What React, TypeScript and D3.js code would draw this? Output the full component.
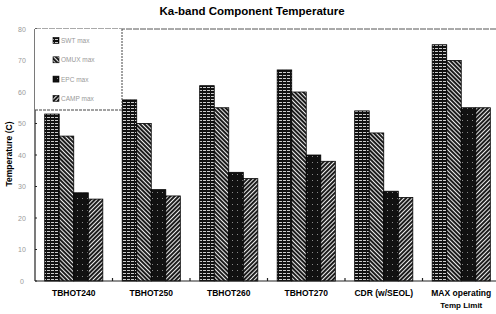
import React, { useEffect, useRef } from 'react';
import * as d3 from 'd3';

const categories = ['TBHOT240', 'TBHOT250', 'TBHOT260', 'TBHOT270', 'CDR (w/SEOL)', 'MAX operating|Temp Limit'];
const seriesNames = ['SWT max', 'OMUX max', 'EPC max', 'CAMP max'];
const swtMax = [53, 57.5, 62, 67, 54, 75];
const omuxMax = [46, 50, 55, 60, 47, 70];
const epcMax = [28, 29, 34.5, 40, 28.5, 55];
const campMax = [26, 27, 32.5, 38, 26.5, 55];
const yTicks = [0, 10, 20, 30, 40, 50, 60, 70, 80];

const W = 496;
const H = 314;
const margin = { top: 29, right: -4, bottom: 33, left: 35 };

const App = () => {
  const ref = useRef<SVGSVGElement>(null);

  useEffect(() => {
    const el = ref.current;
    if (!el) return;
    const svg = d3.select(el);
    svg.selectAll('*').remove();

    const width = W - margin.left - margin.right;
    const height = H - margin.top - margin.bottom;
    const series = [swtMax, omuxMax, epcMax, campMax];

    // patterns
    const defs = svg.append('defs');
    const p1 = defs.append('pattern').attr('id', 'p1').attr('patternUnits', 'userSpaceOnUse')
      .attr('width', 4).attr('height', 3);
    p1.append('rect').attr('width', 4).attr('height', 3).attr('fill', '#111');
    p1.append('rect').attr('x', 0).attr('y', 1).attr('width', 3).attr('height', 1).attr('fill', '#ccc');

    const hatch = (id: string, angle: number) => {
      const p = defs.append('pattern').attr('id', id).attr('patternUnits', 'userSpaceOnUse')
        .attr('width', 3).attr('height', 3).attr('patternTransform', `rotate(${angle})`);
      p.append('rect').attr('width', 3).attr('height', 3).attr('fill', '#eee');
      p.append('line').attr('x1', 1).attr('y1', 0).attr('x2', 1).attr('y2', 3)
        .attr('stroke', '#111').attr('stroke-width', 1.9);
    };
    hatch('p2', -45);
    hatch('p4', 45);

    const p3 = defs.append('pattern').attr('id', 'p3').attr('patternUnits', 'userSpaceOnUse')
      .attr('width', 5).attr('height', 6);
    p3.append('rect').attr('width', 5).attr('height', 6).attr('fill', '#111');
    p3.append('rect').attr('x', 2).attr('y', 1).attr('width', 1).attr('height', 1).attr('fill', '#888');
    const fills = ['url(#p1)', 'url(#p2)', 'url(#p3)', 'url(#p4)'];

    // title
    svg.append('text')
      .attr('x', 252).attr('y', 15)
      .attr('text-anchor', 'middle')
      .style('font-family', 'Liberation Sans, Arial, sans-serif')
      .style('font-weight', 'bold').style('font-size', '11.5px')
      .text('Ka-band Component Temperature');

    const g = svg.append('g').attr('transform', `translate(${margin.left}, ${margin.top})`);

    const x0 = d3.scaleBand().domain(categories).range([0, width]).paddingInner(0.25).paddingOuter(0.125);
    const x1 = d3.scaleBand().domain(seriesNames).range([0, x0.bandwidth()]);
    const y = d3.scaleLinear().domain([0, 80]).range([height, 0]);

    // top frame
    g.append('line').attr('x1', 0).attr('x2', width).attr('y1', 0).attr('y2', 0)
      .attr('stroke', '#555').attr('stroke-dasharray', '6,1');

    // bars
    categories.forEach((c, ci) => {
      series.forEach((s, si) => {
        g.append('rect')
          .attr('x', (x0(c) ?? 0) + (x1(seriesNames[si]) ?? 0))
          .attr('y', y(s[ci]))
          .attr('width', x1.bandwidth())
          .attr('height', height - y(s[ci]))
          .attr('fill', fills[si])
          .attr('stroke', '#000').attr('stroke-width', 0.8);
      });
    });

    // y axis
    g.append('line').attr('x1', 0).attr('x2', 0).attr('y1', 0).attr('y2', height)
      .attr('stroke', '#222').attr('stroke-width', 1.2);
    yTicks.forEach(t => {
      g.append('line').attr('x1', 0).attr('x2', 2).attr('y1', y(t)).attr('y2', y(t)).attr('stroke', '#222');
      g.append('text').attr('x', -13).attr('y', y(t) + 2.5)
        .attr('text-anchor', 'middle')
        .style('font-family', 'Liberation Sans, Arial, sans-serif')
        .style('font-size', '7px').attr('fill', '#999')
        .text(t);
    });

    // x axis
    g.append('line').attr('x1', 0).attr('x2', width).attr('y1', height).attr('y2', height)
      .attr('stroke', '#222').attr('stroke-width', 1.2);
    categories.slice(1).forEach(c => {
      const bx = (x0(c) ?? 0) - (x0.step() - x0.bandwidth()) / 2;
      g.append('line').attr('x1', bx).attr('x2', bx).attr('y1', height).attr('y2', height - 3)
        .attr('stroke', '#222').attr('stroke-width', 1.2);
    });
    categories.forEach(c => {
      const lines = c.split('|');
      lines.forEach((ln, li) => {
        g.append('text')
          .attr('x', (x0(c) ?? 0) + x0.bandwidth() / 2)
          .attr('y', height + 15 + li * 12)
          .attr('text-anchor', 'middle')
          .style('font-family', 'Liberation Sans, Arial, sans-serif')
          .style('font-weight', 'bold').style('font-size', li === 0 ? '8.5px' : '8px')
          .text(ln);
      });
    });

    // y title
    svg.append('text')
      .attr('transform', `translate(12, ${margin.top + 125}) rotate(-90)`)
      .attr('text-anchor', 'middle')
      .style('font-family', 'Liberation Sans, Arial, sans-serif')
      .style('font-weight', 'bold').style('font-size', '8.5px')
      .text('Temperature (C)');

    // legend box
    const lg = g.append('g');
    lg.append('rect').attr('x', 0).attr('y', 0).attr('width', 87).attr('height', 81)
      .attr('fill', '#fff');
    lg.append('line').attr('x1', 87).attr('x2', 87).attr('y1', 0).attr('y2', 81)
      .attr('stroke', '#444').attr('stroke-dasharray', '2,1');
    lg.append('line').attr('x1', 0).attr('x2', 87).attr('y1', 81).attr('y2', 81)
      .attr('stroke', '#444').attr('stroke-dasharray', '3,1');
    seriesNames.forEach((n, i) => {
      const ly = 12 + i * 19.3;
      lg.append('rect').attr('x', 18).attr('y', ly - 3.5).attr('width', 6).attr('height', 6)
        .attr('fill', fills[i]).attr('stroke', '#000').attr('stroke-width', 0.6);
      lg.append('text').attr('x', 26).attr('y', ly + 2)
        .style('font-family', 'Liberation Sans, Arial, sans-serif')
        .style('font-size', '6.5px').attr('fill', '#999')
        .text(n);
    });
  }, []);

  return (
    <svg ref={ref} width={W} height={H}
      style={{ position: 'absolute', left: 0, top: 0, background: '#fff' }} />
  );
};

export default App;
